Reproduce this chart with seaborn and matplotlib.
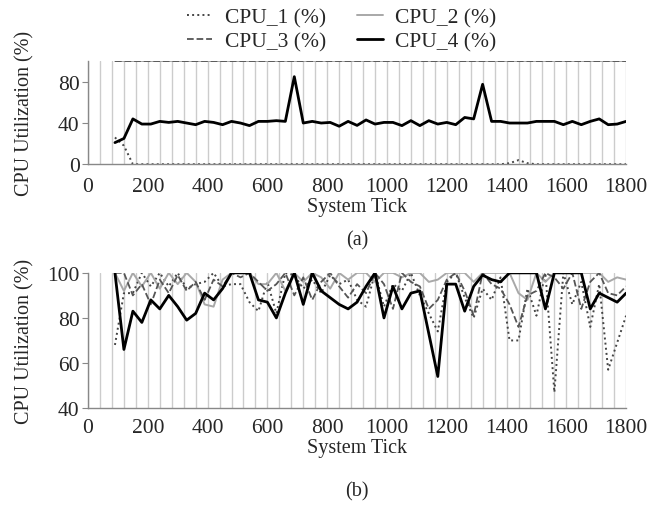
import matplotlib
matplotlib.use('Agg')
import matplotlib.pyplot as plt
from matplotlib.ticker import MultipleLocator
import seaborn as sns

sns.set_style('white')
plt.rcParams['font.family'] = ['Liberation Serif', 'DejaVu Serif']

# sample positions (system tick)
ticks = list(range(90, 1801, 30))

# panel (a)
a_cpu1 = [26, 18, 0, 0, 0, 0, 0, 0, 0, 0, 0, 0, 0, 0, 0, 0, 0, 0, 0, 0,
          0, 0, 0, 0, 0, 0, 0, 0, 0, 0, 0, 0, 0, 0, 0, 0, 0, 0, 0, 0,
          0, 0, 0, 0, 1, 4, 1, 0, 0, 0, 0, 0, 0, 0, 0, 0, 0, 0]
a_cpu2 = [100] * 58
a_cpu3 = [100] * 58
a_cpu4 = [21, 25, 44, 39, 39, 41.6, 40.6, 41.6, 40, 38.4, 41.6, 40.6, 38.4, 41.6, 40, 37.5, 41.6, 41.6, 42.3, 41.6,
          85, 40, 41.6, 40, 40.6, 36.9, 41.6, 37.7, 43, 39, 40.6, 40.6, 37.5, 42.3, 37.5, 42.3, 39, 40.6, 38.4, 45.4,
          44, 77.6, 41.6, 41.6, 40, 40, 40, 41.6, 41.6, 41.6, 38.4, 41.6, 38.4, 41.6, 44, 38.4, 39, 41.6]

# panel (b)
b_cpu1 = [68, 91, 91, 100, 94, 100, 94, 100, 93, 95, 96, 100, 94, 95, 95, 87, 83, 96, 82, 100,
          99, 93, 97, 91, 99, 95, 97, 88, 85, 100, 85, 95, 92, 100, 90, 82, 74, 96, 100, 89,
          80, 93, 88, 98, 70, 70, 93, 81, 100, 47, 100, 86, 96, 76, 95, 57, 69, 81]
b_cpu2 = [100, 92, 100, 94, 100, 93, 100, 95, 100, 96, 86, 85, 97, 100, 100, 100, 95, 95, 100, 92,
          100, 96, 100, 98, 93, 100, 97, 100, 100, 96, 100, 100, 98, 100, 100, 96, 97, 100, 100, 100,
          96, 100, 100, 100, 100, 91, 88, 100, 96, 100, 100, 100, 100, 100, 100, 96, 98, 97]
b_cpu3 = [100, 100, 90, 95, 86, 97, 91, 99, 92, 96, 88, 97, 94, 100, 98, 100, 96, 92, 95, 100,
          90, 98, 88, 96, 100, 94, 89, 95, 91, 100, 95, 84, 100, 96, 94, 84, 88, 97, 100, 92,
          81, 100, 95, 93, 86, 76, 90, 92, 100, 98, 93, 100, 84, 96, 100, 91, 90, 94]
b_cpu4 = [100, 66, 83, 78, 88, 84, 90, 85, 79, 82, 91, 88, 93, 100, 100, 100, 88, 87, 80, 91,
          100, 86, 100, 92, 89, 86, 84, 87, 94, 100, 80, 94, 84, 91, 92, 73, 54, 95, 95, 83,
          94, 99, 97, 96, 100, 100, 100, 100, 84, 100, 100, 100, 100, 84, 91, 89, 87, 91]

labels = ['CPU_1 (%)', 'CPU_2 (%)', 'CPU_3 (%)', 'CPU_4 (%)']
styles = [dict(color='#444444', ls=':', lw=1.4),
          dict(color='#a8a8a8', ls='-', lw=1.4),
          dict(color='#555555', ls='--', lw=1.3),
          dict(color='black', ls='-', lw=2.0)]

fig = plt.figure(figsize=(6.57, 5.10), dpi=100)
ax_a = fig.add_axes([0.134, 0.676, 0.819, 0.202])
ax_b = fig.add_axes([0.134, 0.198, 0.819, 0.265])

panels = [(ax_a, [a_cpu1, a_cpu2, a_cpu3, a_cpu4], (0, 100), [0, 40, 80], '(a)', 0.527, 9),
          (ax_b, [b_cpu1, b_cpu2, b_cpu3, b_cpu4], (40, 100), [40, 60, 80, 100], '(b)', 0.035, 7)]

for ax, series, ylim, yt, tag, ty, xpad in panels:
    for vals, lab, st in zip(series, labels, styles):
        sns.lineplot(x=ticks, y=vals, ax=ax, label=lab, **st)
    ax.set_xlim(0, 1800)
    ax.set_ylim(*ylim)
    ax.set_yticks(yt)
    ax.set_xticks(range(0, 1801, 200))
    ax.xaxis.set_minor_locator(MultipleLocator(40))
    ax.grid(which='both', axis='x', color='#cccccc', lw=1.0)
    ax.set_axisbelow(True)
    for s in ['top', 'right']:
        ax.spines[s].set_visible(False)
    for s in ['left', 'bottom']:
        ax.spines[s].set_color('#888888')
        ax.spines[s].set_linewidth(1.0)
    ax.tick_params(axis='y', length=4, color='#888888', labelsize=15.5, pad=2, left=True)
    ax.tick_params(axis='x', which='both', length=0, labelsize=15.5, pad=xpad)
    ax.set_xlabel('System Tick', fontsize=14.5, labelpad=1)
    ax.set_ylabel('CPU Utilization (%)', fontsize=14.5)
    ax.yaxis.set_label_coords(-0.1, 0.5)
    ax.get_legend().remove()
    fig.text(0.5435, ty, tag, ha='center', va='center', fontsize=14.5)

handles, labs = ax_a.get_legend_handles_labels()
order = [0, 2, 1, 3]
fig.legend([handles[i] for i in order], [labs[i] for i in order],
           loc='upper center', bbox_to_anchor=(0.52, 1.022), ncol=2,
           frameon=False, fontsize=15.5, handlelength=1.2, handletextpad=0.6,
           columnspacing=1.4, labelspacing=0.2)

fig.savefig('out.png', dpi=100)
